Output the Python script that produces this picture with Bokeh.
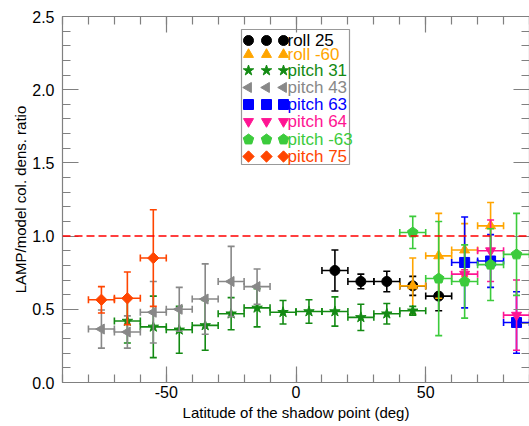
import math
from bokeh.plotting import figure
from bokeh.models import Range1d, LinearAxis, FixedTicker, PrintfTickFormatter, Span
from bokeh.core.properties import value
from bokeh.embed import file_html
from bokeh.resources import INLINE

# ---------------- data ----------------
roll25_lat = [15, 25, 35, 45, 55]
roll25_val = [0.765, 0.69, 0.69, 0.66, 0.59]
roll25_err = [0.14, 0.05, 0.07, 0.065, 0.10]
roll25_xerr = [5, 5, 5, 5, 5]

rollm60_lat = [45, 55, 65, 75]
rollm60_val = [0.66, 0.865, 0.905, 1.07]
rollm60_err = [0.19, 0.29, 0.18, 0.16]
rollm60_xerr = [5, 5, 5, 5]

pitch31_lat = [-65, -55, -45, -35, -25, -15, -5, 5, 15, 25, 35, 45]
pitch31_val = [0.42, 0.38, 0.36, 0.39, 0.47, 0.51, 0.48, 0.485, 0.485, 0.445, 0.47, 0.49]
pitch31_err = [0.15, 0.21, 0.16, 0.17, 0.11, 0.13, 0.08, 0.08, 0.10, 0.09, 0.07, 0.03]
pitch31_xerr = [5] * 12

pitch43_lat = [-75, -65, -55, -45, -35, -25, -15]
pitch43_val = [0.365, 0.345, 0.48, 0.50, 0.57, 0.69, 0.655]
pitch43_err = [0.13, 0.11, 0.21, 0.15, 0.24, 0.24, 0.12]
pitch43_xerr = [5] * 7

pitch63_lat = [65, 75, 85]
pitch63_val = [0.82, 0.83, 0.41]
pitch63_err = [0.31, 0.18, 0.21]
pitch63_xerr = [5, 5, 5]

pitch64_lat = [65, 75, 85]
pitch64_val = [0.74, 0.90, 0.46]
pitch64_err = [0.03, 0.21, 0.24]
pitch64_xerr = [5, 5, 5]

pitchm63_lat = [45, 55, 65, 75, 85]
pitchm63_val = [1.025, 0.71, 0.69, 0.805, 0.875]
pitchm63_err = [0.11, 0.39, 0.25, 0.245, 0.28]
pitchm63_xerr = [5, 5, 5, 5, 5]

pitch75_lat = [-75, -65, -55]
pitch75_val = [0.565, 0.575, 0.85]
pitch75_err = [0.09, 0.18, 0.33]
pitch75_xerr = [5, 5, 5]

labels = ["roll 25", "roll -60", "pitch 31", "pitch 43", "pitch 63", "pitch 64", "pitch -63", "pitch 75"]
colors = ["black", "#FFA500", "#138A13", "#888888", "#0000FF", "#FF1493", "#3CCB3C", "#FF4500"]
markers = ["circle", "triangle", "star", "triangle", "square", "inverted_triangle", "pentagon", "square"]
angles = [0, 0, 0, math.pi / 2, 0, 0, 0, math.pi / 4]
sizes = [10, 10, 11, 10, 10, 10, 5.5, 8]

series = [
    (roll25_lat, roll25_val, roll25_err, roll25_xerr),
    (rollm60_lat, rollm60_val, rollm60_err, rollm60_xerr),
    (pitch31_lat, pitch31_val, pitch31_err, pitch31_xerr),
    (pitch43_lat, pitch43_val, pitch43_err, pitch43_xerr),
    (pitch63_lat, pitch63_val, pitch63_err, pitch63_xerr),
    (pitch64_lat, pitch64_val, pitch64_err, pitch64_xerr),
    (pitchm63_lat, pitchm63_val, pitchm63_err, pitchm63_xerr),
    (pitch75_lat, pitch75_val, pitch75_err, pitch75_xerr),
]

# ---------------- layout ----------------
W, H = 529, 426
FL, FR, FT, FB = 62, 529, 16, 382
X0, X1, Y0, Y1 = -90, 90, 0.0, 2.5
SX = (FR - FL) / (X1 - X0)   # px per deg
SY = (FB - FT) / (Y1 - Y0)   # px per unit


def px2x(px):
    return X0 + (px - FL) / SX


def py2y(py):
    return Y1 - (py - FT) / SY


FONT = "Liberation Sans"

p = figure(width=W, height=H, output_backend="svg", toolbar_location=None,
           x_range=Range1d(X0, X1), y_range=Range1d(Y0, Y1),
           min_border_left=FL, min_border_right=W - FR, min_border_top=FT, min_border_bottom=H - FB,
           x_axis_label="Latitude of the shadow point (deg)",
           y_axis_label="LAMP/model col. dens. ratio")
p.grid.visible = False
p.outline_line_color = None
p.background_fill_color = "white"
p.border_fill_color = "white"

xt = FixedTicker(ticks=[-50, 0, 50], minor_ticks=[v for v in range(-90, 91, 10)])
yt = FixedTicker(ticks=[0, 0.5, 1.0, 1.5, 2.0, 2.5], minor_ticks=[i / 10 for i in range(0, 26)])

AX_COL = "#808080"


def style_axis(ax, ticker, show_labels):
    ax.ticker = ticker
    ax.axis_line_color = AX_COL
    ax.axis_line_width = 1.2
    ax.major_tick_line_color = AX_COL
    ax.minor_tick_line_color = AX_COL
    ax.major_tick_line_width = 1.2
    ax.minor_tick_line_width = 1.2
    ax.major_tick_in = 16
    ax.major_tick_out = 0
    ax.minor_tick_in = 8
    ax.minor_tick_out = 0
    if not show_labels:
        ax.major_label_text_font_size = "0px"
        ax.major_label_standoff = 0
        ax.major_label_text_alpha = 0
    else:
        ax.major_label_text_font = FONT
        ax.major_label_text_font_size = "16px"
        ax.major_label_text_color = "black"
        ax.axis_label_text_font = FONT
        ax.axis_label_text_font_size = "15px"
        ax.axis_label_text_font_style = "normal"
        ax.axis_label_text_color = "black"


style_axis(p.xaxis[0], xt, True)
style_axis(p.yaxis[0], yt, True)
p.xaxis[0].formatter = PrintfTickFormatter(format="%d")
p.yaxis[0].formatter = PrintfTickFormatter(format="%.1f")
p.xaxis[0].major_label_standoff = 3
p.xaxis[0].axis_label_standoff = 3
p.yaxis[0].major_label_standoff = 8
p.yaxis[0].axis_label_standoff = 0

top_ax = LinearAxis()
style_axis(top_ax, xt, False)
p.add_layout(top_ax, "above")
right_ax = LinearAxis()
style_axis(right_ax, yt, False)
p.add_layout(right_ax, "right")

# reference line
p.add_layout(Span(location=1.0, dimension="width", line_color="red", line_dash="8 4", line_width=1.5))

CAP = 3.5  # px half width of caps


def pentagon_xy(xc, yc, r):
    xs = [xc + r * math.sin(2 * math.pi * k / 5) / SX for k in range(5)]
    ys = [yc + r * math.cos(2 * math.pi * k / 5) / SY for k in range(5)]
    return xs, ys


def draw_marker(xs, ys, i):
    if markers[i] == "pentagon":
        pxs, pys = [], []
        for xc, yc in zip(xs, ys):
            a, b = pentagon_xy(xc, yc, sizes[i])
            pxs.append(a)
            pys.append(b)
        p.patches(pxs, pys, fill_color=colors[i], line_color=colors[i])
    else:
        p.scatter(xs, ys, marker=markers[i], size=sizes[i], angle=angles[i],
                  fill_color=colors[i], line_color=colors[i])


for i, (lat, val, err, xerr) in enumerate(series):
    c = colors[i]
    x0s, y0s, x1s, y1s = [], [], [], []
    for x, y, e, xe in zip(lat, val, err, xerr):
        x0s += [x, x - xe]
        y0s += [y - e, y]
        x1s += [x, x + xe]
        y1s += [y + e, y]
        for yy in (y - e, y + e):
            x0s.append(x - CAP / SX); x1s.append(x + CAP / SX); y0s.append(yy); y1s.append(yy)
        for xx in (x - xe, x + xe):
            x0s.append(xx); x1s.append(xx); y0s.append(y - CAP / SY); y1s.append(y + CAP / SY)
    p.segment(x0s, y0s, x1s, y1s, line_color=c, line_width=1.6)
    draw_marker(lat, val, i)

# ---------------- legend ----------------
LEG_L, LEG_R, LEG_T, LEG_B = 241, 349, 29, 164
p.quad(left=[px2x(LEG_L)], right=[px2x(LEG_R)], top=[py2y(LEG_T)], bottom=[py2y(LEG_B)],
       fill_color="white", line_color="#999999", line_width=1.2)
row_py = [40, 54, 70, 87, 104, 121, 139, 156]
mark_px = [248, 266, 283]
for i, lab in enumerate(labels):
    yy = py2y(row_py[i])
    xs = [px2x(m) for m in mark_px]
    draw_marker(xs, [yy] * 3, i)
    p.text([px2x(287)], [yy], text=[lab], text_color=colors[i], text_font=value(FONT),
           text_font_size="17px", text_baseline="middle", text_align="left")

open("out.html", "w").write(file_html(p, INLINE))
